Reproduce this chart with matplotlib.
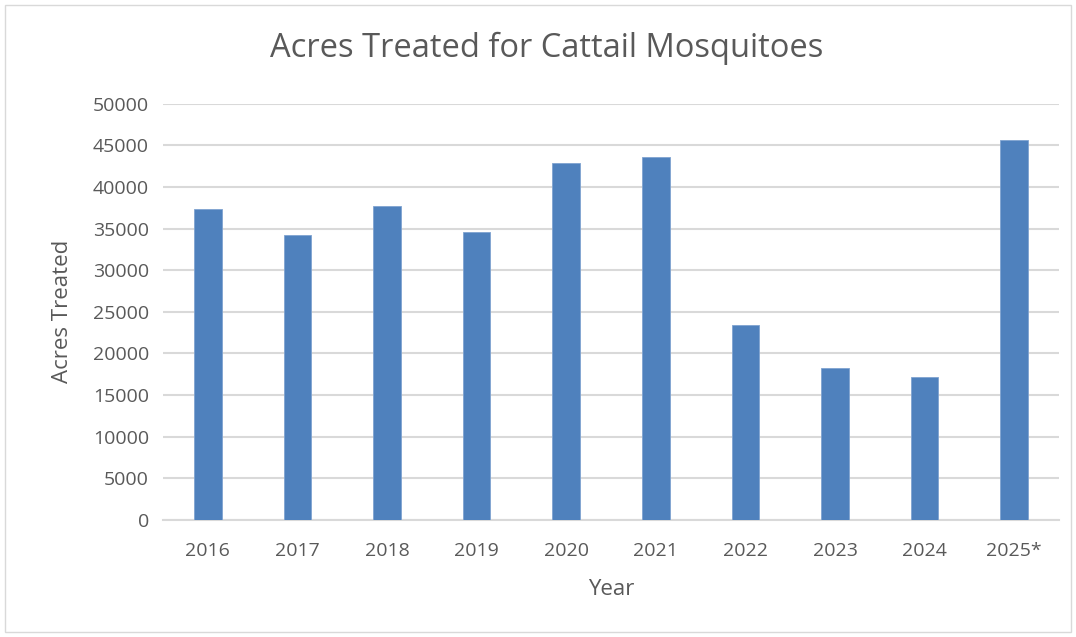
import matplotlib.pyplot as plt
from matplotlib.patches import Rectangle

# values
years = ["2016", "2017", "2018", "2019", "2020", "2021", "2022", "2023", "2024", "2025*"]
acres = [37300, 34250, 37700, 34550, 42850, 43550, 23350, 18250, 17150, 45600]
y_ticks = list(range(0, 50001, 5000))

plt.rcParams['font.family'] = ['Open Sans', 'DejaVu Sans']
text_col = '#595959'
grid_col = '#d9d9d9'

fig = plt.figure(figsize=(10.76, 6.37), dpi=100)
ax = fig.add_axes([163 / 1076, 1 - 519.7 / 637, 896 / 1076, 416 / 637])

# chart border
fig.patches.append(Rectangle((5 / 1076, 5 / 637), 1066 / 1076, 627 / 637,
                             transform=fig.transFigure, fill=False,
                             edgecolor='#d9d9d9', linewidth=1))

x = range(len(years))
ax.bar(x, acres, width=0.31, color='#4f81bd', edgecolor='#7fa3d0', linewidth=0.6, zorder=3)

ax.set_xlim(-0.5, len(years) - 0.5)
ax.set_ylim(0, 50000)
ax.set_yticks(y_ticks)
ax.set_yticklabels([str(v) for v in y_ticks])
ax.set_xticks(list(x))
ax.set_xticklabels(years)
ax.tick_params(length=0, labelsize=14, colors=text_col, pad=10)
ax.tick_params(axis='x', pad=16)
ax.grid(axis='y', color=grid_col, linewidth=1.5, zorder=0)
for s in ['top', 'right', 'left']:
    ax.spines[s].set_visible(False)
ax.spines['bottom'].set_color(grid_col)
ax.spines['bottom'].set_linewidth(1.5)

ax.set_xlabel('Year', fontsize=16, color=text_col, labelpad=14)
ax.set_ylabel('Acres Treated', fontsize=16, color=text_col, labelpad=14)
fig.text(547 / 1076, 1 - 48 / 637, 'Acres Treated for Cattail Mosquitoes',
         ha='center', va='center', fontsize=23.5, color=text_col)

fig.savefig('out.png', dpi=100)
